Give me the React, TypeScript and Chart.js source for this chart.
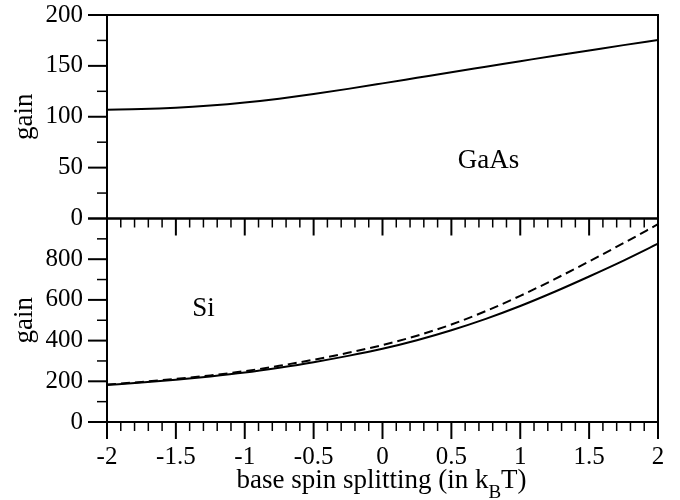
import { useEffect, useRef } from 'react';
import { Chart, registerables } from 'chart.js';

Chart.register(...registerables);

// ---- data ----
const X_VALUES = [-2, -1.75, -1.5, -1.25, -1, -0.75, -0.5, -0.25, 0, 0.25, 0.5, 0.75, 1, 1.25, 1.5, 1.75, 2];
const GAAS_GAIN = [107, 107.5, 108.8, 111, 114, 117.8, 122.3, 127.4, 132.8, 138.3, 143.8, 149.2, 154.6, 160, 165.2, 170.4, 175.5];
const SI_GAIN_SOLID = [182, 194, 208, 224, 243, 267, 294, 325, 360, 402, 451, 507, 570, 640, 715, 793, 876];
const SI_GAIN_DASHED = [184, 197, 212, 229, 250, 276, 306, 340, 378, 424, 479, 545, 620, 702, 789, 879, 972];

const X_TICKS = [-2, -1.5, -1, -0.5, 0, 0.5, 1, 1.5, 2];
const X_TICK_LABELS = ['-2', '-1.5', '-1', '-0.5', '0', '0.5', '1', '1.5', '2'];
const Y_TOP_TICKS = [0, 50, 100, 150, 200];
const Y_BOT_TICKS = [0, 200, 400, 600, 800];

const X_TITLE_MAIN = 'base spin splitting (in k';
const X_TITLE_SUB = 'B';
const X_TITLE_END = 'T)';
const Y_TITLE = 'gain';
const LABEL_TOP = 'GaAs';
const LABEL_BOT = 'Si';

const FONT = "'Liberation Serif', 'Times New Roman', serif";

const toPoints = (ys: number[]) => X_VALUES.map((x, i) => ({ x, y: ys[i] }));

const decorPlugin = {
  id: 'decor',
  afterDraw(chart: any) {
    const { ctx } = chart;
    const xs = chart.scales.x;
    const yt = chart.scales.yTop;
    const yb = chart.scales.yBot;
    const L = xs.left;
    const R = xs.right;
    ctx.save();
    ctx.strokeStyle = '#000';
    ctx.fillStyle = '#000';
    ctx.lineCap = 'butt';
    const seg = (x1: number, y1: number, x2: number, y2: number, w: number) => {
      ctx.lineWidth = w;
      ctx.beginPath();
      ctx.moveTo(x1, y1);
      ctx.lineTo(x2, y2);
      ctx.stroke();
    };
    // frames
    ctx.lineWidth = 2;
    ctx.strokeRect(L, yt.top, R - L, yt.bottom - yt.top);
    ctx.strokeRect(L, yb.top, R - L, yb.bottom - yb.top);
    // x ticks (major 0.5, minor 0.1) below each panel
    for (let i = 0; i <= 40; i++) {
      const v = -2 + i * 0.1;
      const p = xs.getPixelForValue(v);
      const major = i % 5 === 0;
      for (const base of [yt.bottom, yb.bottom]) {
        seg(p, base, p, base + (major ? 17 : 9), major ? 2 : 1.5);
      }
    }
    // y ticks top panel (major 50, minor 25)
    for (let v = 0; v <= 200; v += 25) {
      const p = yt.getPixelForValue(v);
      const major = v % 50 === 0;
      seg(L, p, L - (major ? 19 : 10), p, major ? 2 : 1.5);
    }
    // y ticks bottom panel (major 200, minor 100)
    for (let v = 0; v <= 1000; v += 100) {
      const p = yb.getPixelForValue(v);
      const major = v % 200 === 0;
      seg(L, p, L - (major ? 19 : 10), p, major ? 2 : 1.5);
    }
    // panel labels
    ctx.font = `27px ${FONT}`;
    ctx.textAlign = 'center';
    ctx.textBaseline = 'alphabetic';
    ctx.fillText(LABEL_TOP, xs.getPixelForValue(0.77), yt.getPixelForValue(50));
    ctx.fillText(LABEL_BOT, xs.getPixelForValue(-1.3), yb.getPixelForValue(520));
    // x-axis title with subscript
    const mainFont = `27px ${FONT}`;
    const subFont = `19px ${FONT}`;
    ctx.font = mainFont;
    const w1 = ctx.measureText(X_TITLE_MAIN).width;
    const w3 = ctx.measureText(X_TITLE_END).width;
    ctx.font = subFont;
    const w2 = ctx.measureText(X_TITLE_SUB).width;
    const total = w1 + w2 + w3;
    let cx = (L + R) / 2 - 1 - total / 2;
    const base = yb.bottom + 66;
    ctx.textAlign = 'left';
    ctx.font = mainFont;
    ctx.fillText(X_TITLE_MAIN, cx, base);
    cx += w1;
    ctx.font = subFont;
    ctx.fillText(X_TITLE_SUB, cx, base + 10);
    cx += w2;
    ctx.font = mainFont;
    ctx.fillText(X_TITLE_END, cx, base);
    ctx.restore();
  },
};

const yAxis = (ticks: number[], max: number, weight: number) => ({
  type: 'linear',
  position: 'left',
  stack: 'panels',
  stackWeight: 1,
  weight,
  min: 0,
  max,
  grid: { display: false, drawTicks: true, tickLength: 24 },
  border: { display: false },
  afterBuildTicks: (scale: any) => {
    scale.ticks = ticks.map((v) => ({ value: v }));
  },
  afterFit: (scale: any) => {
    scale.width = 107;
  },
  ticks: {
    padding: 0,
    autoSkip: false,
    font: { size: 25, family: FONT },
    color: '#000',
    callback: (v: any) => String(v),
  },
  title: {
    display: true,
    text: Y_TITLE,
    color: '#000',
    font: { size: 27, family: FONT },
    padding: { top: 9, bottom: 0 },
  },
});

export default function App() {
  const ref = useRef<HTMLCanvasElement | null>(null);

  useEffect(() => {
    if (!ref.current) return;
    Chart.defaults.font.family = FONT;
    Chart.defaults.color = '#000';
    const chart = new Chart(ref.current, {
      type: 'line',
      data: {
        datasets: [
          {
            label: 'GaAs',
            data: toPoints(GAAS_GAIN),
            yAxisID: 'yTop',
            borderColor: '#000',
            borderWidth: 2,
            pointRadius: 0,
            cubicInterpolationMode: 'monotone',
            fill: false,
          },
          {
            label: 'Si',
            data: toPoints(SI_GAIN_SOLID),
            yAxisID: 'yBot',
            borderColor: '#000',
            borderWidth: 2,
            pointRadius: 0,
            cubicInterpolationMode: 'monotone',
            fill: false,
          },
          {
            label: 'Si (dashed)',
            data: toPoints(SI_GAIN_DASHED),
            yAxisID: 'yBot',
            borderColor: '#000',
            borderWidth: 2,
            borderDash: [9, 5],
            pointRadius: 0,
            cubicInterpolationMode: 'monotone',
            fill: false,
          },
        ],
      },
      options: {
        responsive: false,
        animation: false,
        layout: { padding: { top: 15, right: 22, left: 0, bottom: 0 } },
        plugins: { legend: { display: false }, tooltip: { enabled: false } },
        scales: {
          x: {
            type: 'linear',
            min: -2,
            max: 2,
            grid: { display: false, drawTicks: true, tickLength: 20 },
            border: { display: false },
            afterBuildTicks: (scale: any) => {
              scale.ticks = X_TICKS.map((v) => ({ value: v }));
            },
            afterFit: (scale: any) => {
              scale.height = 78;
            },
            ticks: {
              padding: 0,
              autoSkip: false,
              maxRotation: 0,
              font: { size: 25, family: FONT },
              color: '#000',
              callback: (v: any) => {
                const i = X_TICKS.indexOf(Number(v));
                return i >= 0 ? X_TICK_LABELS[i] : '';
              },
            },
          },
          yTop: yAxis(Y_TOP_TICKS, 200, 2),
          yBot: yAxis(Y_BOT_TICKS, 1000, 1),
        },
      },
      plugins: [decorPlugin],
    } as any);
    return () => chart.destroy();
  }, []);

  return (
    <div style={{ position: 'absolute', left: 0, top: 0, width: 680, height: 500, background: '#fff' }}>
      <canvas ref={ref} width={680} height={500} style={{ display: 'block' }} />
    </div>
  );
}
